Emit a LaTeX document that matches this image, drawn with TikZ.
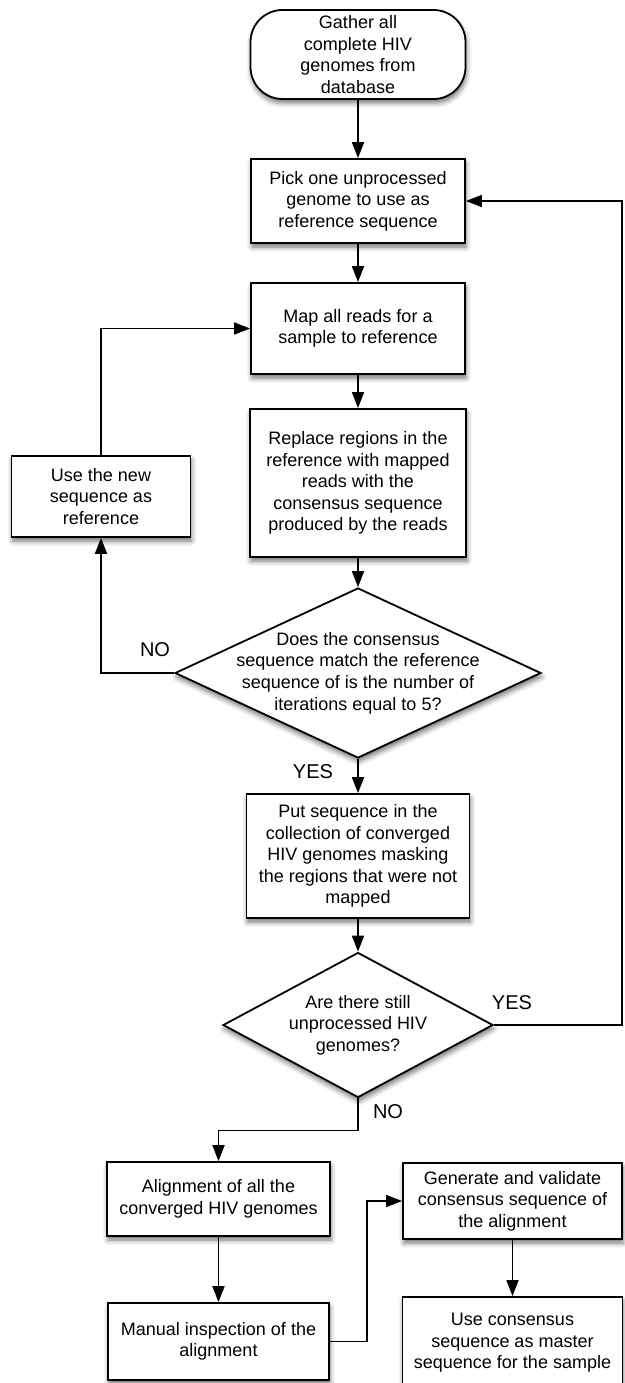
\documentclass[tikz,border=0pt]{standalone}
\usepackage{fontspec}
\setmainfont{Liberation Sans}
\usetikzlibrary{shapes.geometric,arrows.meta,shadows,shadows.blur}
\begin{document}
\begin{tikzpicture}[x=1pt,y=-1pt,
  shad/.style={blur shadow={shadow xshift=1pt,shadow yshift=-4pt,shadow blur radius=5pt,shadow opacity=55}},
  box/.style={draw=black,line width=1.8pt,fill=white,inner sep=0pt,align=center,
    font=\fontsize{18}{21.6}\selectfont,shad},
  rbox/.style={box,rectangle},
  term/.style={box,rectangle,rounded corners=32pt},
  dec/.style={draw=black,line width=1.8pt,fill=white,diamond,inner sep=0pt,shad},
  txt/.style={align=center,inner sep=0pt,font=\fontsize{18}{21.6}\selectfont},
  lab/.style={inner sep=0pt,font=\fontsize{20}{24}\selectfont},
  conn/.style={line width=1.8pt,-{Triangle[length=16pt,width=12pt]}}]
\useasboundingbox (0,0) rectangle (624,1383);

\node[term,minimum width=215pt,minimum height=89pt] (start) at (358,54.5)
  {Gather all\\complete HIV\\genomes from\\database};
\node[rbox,minimum width=214pt,minimum height=84pt] (pick) at (358,201)
  {Pick one unprocessed\\genome to use as\\reference sequence};
\node[rbox,minimum width=214pt,minimum height=91pt] (map) at (358,328.5)
  {Map all reads for a\\sample to reference};
\node[rbox,minimum width=216pt,minimum height=148pt] (replace) at (358,483)
  {Replace regions in the\\reference with mapped\\reads with the\\consensus sequence\\produced by the reads};
\node[rbox,minimum width=179pt,minimum height=81pt] (usenew) at (101,496.5)
  {Use the new\\sequence as\\reference};
\node[dec,minimum width=366pt,minimum height=170pt] (dec1) at (358,673) {};
\node[txt] (dec1t) at (dec1.center)
  {Does the consensus\\sequence match the reference\\sequence of is the number of\\iterations equal to 5?};
\node[rbox,minimum width=223pt,minimum height=124pt] (put) at (358,856)
  {Put sequence in the\\collection of converged\\HIV genomes masking\\the regions that were not\\mapped};
\node[dec,minimum width=270pt,minimum height=145pt] (dec2) at (358,1025) {};
\node[txt] (dec2t) at (dec2.center)
  {Are there still\\unprocessed HIV\\genomes?};
\node[rbox,minimum width=223pt,minimum height=74pt] (align) at (218.5,1199)
  {Alignment of all the\\converged HIV genomes};
\node[rbox,minimum width=221pt,minimum height=77pt] (manual) at (218.5,1341.5)
  {Manual inspection of the\\alignment};
\node[rbox,minimum width=219pt,minimum height=76pt] (generate) at (512.5,1201)
  {Generate and validate\\consensus sequence of\\the alignment};
\node[rbox,minimum width=220pt,minimum height=92pt] (usecons) at (512.5,1343)
  {Use consensus\\sequence as master\\sequence for the sample};

\node[lab] (no1) at (155,650) {NO};
\node[lab] (yes1) at (313,772) {YES};
\node[lab] (yes2) at (512,1003) {YES};
\node[lab] (no2) at (388,1112) {NO};

\coordinate (rr) at (622,0);

\draw[conn] (start.south) -- (pick.north);
\draw[conn] (pick.south) -- (map.north);
\draw[conn] (map.south) -- (replace.north);
\draw[conn] (replace.south) -- (dec1.north);
\draw[conn] (dec1.west) -| (usenew.south);
\draw[conn] (usenew.north) |- (map.west);
\draw[conn] (dec1.south) -- (put.north);
\draw[conn] (put.south) -- (dec2.north);
\draw[conn] (dec2.east) -- (dec2.east -| rr) |- (pick.east);
\draw[conn] (dec2.south) -- ++(0,32) -| (align.north);
\draw[conn] (align.south) -- (manual.north);
\draw[conn] (manual.east) -- ++(37,0) |- (generate.west);
\draw[conn] (generate.south) -- (usecons.north);
\end{tikzpicture}
\end{document}
